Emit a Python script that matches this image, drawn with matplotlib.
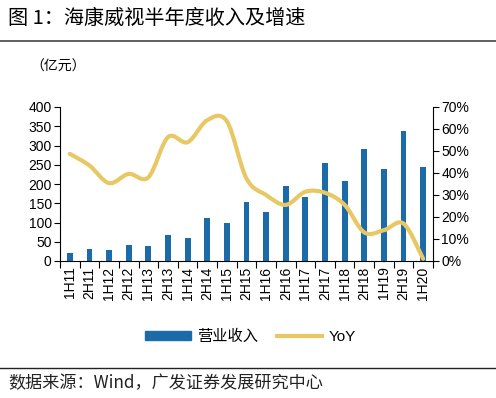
import numpy as np
import matplotlib
matplotlib.use("Agg")
from matplotlib import pyplot as plt
from matplotlib.path import Path
from matplotlib.patches import PathPatch, Rectangle
from matplotlib.lines import Line2D

plt.rcParams['font.family'] = ['Liberation Sans', 'Noto Sans CJK SC', 'DejaVu Sans']

periods = ["1H11", "2H11", "1H12", "2H12", "1H13", "2H13", "1H14", "2H14", "1H15", "2H15",
           "1H16", "2H16", "1H17", "2H17", "1H18", "2H18", "1H19", "2H19", "1H20"]
revenue = [20, 30, 28, 42, 38, 68, 59, 111, 98, 154,
           126, 194, 165, 255, 209, 291, 239, 338, 244]
yoy = [48.7, 43.4, 35.4, 39.6, 38.0, 56.3, 54.0, 64.0, 63.5, 37.5,
       30.0, 25.5, 31.5, 31.0, 25.5, 13.0, 14.0, 17.0, 1.0]
left_ticks = list(range(0, 401, 50))
right_ticks = list(range(0, 71, 10))

BAR_COLOR = "#1B6BA8"
LINE_COLOR = "#E8C865"
CJK = ['Noto Sans CJK SC', 'DejaVu Sans']


def smooth_path(xs, ys):
    """Catmull-Rom style bezier path through the points (like Excel smoothed line)"""
    pts = np.column_stack([xs, ys]).astype(float)
    n = len(pts)
    verts = [pts[0]]
    codes = [Path.MOVETO]
    for i in range(n - 1):
        p0 = pts[max(i - 1, 0)]
        p1 = pts[i]
        p2 = pts[i + 1]
        p3 = pts[min(i + 2, n - 1)]
        c1 = p1 + (p2 - p0) / 6.0
        c2 = p2 - (p3 - p1) / 6.0
        verts += [c1, c2, p2]
        codes += [Path.CURVE4] * 3
    return Path(verts, codes)


fig = plt.figure(figsize=(4.96, 3.98), dpi=100)

# title and rules
fig.text(8 / 496, 1 - 18 / 398, "图 1：海康威视半年度收入及增速", fontsize=14.5,
         fontweight="medium", va="center", ha="left", family=CJK)
fig.add_artist(Line2D([0, 1], [1 - 41 / 398] * 2, color="#444444", lw=1.2))
fig.text(30 / 496, 1 - 67 / 398, "（亿元）", fontsize=10, va="center", ha="left", family=CJK)
fig.add_artist(Line2D([0, 1], [1 - 368 / 398] * 2, color="#222222", lw=1.0))
fig.text(8 / 496, 1 - 383 / 398, "数据来源：Wind，广发证券发展研究中心", fontsize=12.3,
         va="center", ha="left", color="#222222", family=CJK)

ax = fig.add_axes([60 / 496, 1 - 261 / 398, (433 - 60) / 496, (261 - 107) / 398])
x = np.arange(len(periods))
ax.bar(x, revenue, width=0.3, color=BAR_COLOR, zorder=2)
ax.set_xlim(-0.5, len(periods) - 0.5)
ax.set_ylim(0, 400)
ax.set_yticks(left_ticks)
ax.tick_params(axis="y", labelsize=10, length=4, direction="out", pad=2)
ax.set_xticks(np.arange(-0.5, len(periods), 1.0))
ax.set_xticklabels([])
ax.set_xticks(x, minor=True)
ax.set_xticklabels(periods, minor=True, rotation=90, fontsize=10)
ax.tick_params(axis="x", which="major", length=5, direction="out")
ax.tick_params(axis="x", which="minor", length=0, pad=4)
for s in ["top", "right"]:
    ax.spines[s].set_visible(False)

ax2 = ax.twinx()
ax2.set_ylim(0, 70)
ax2.set_yticks(right_ticks)
ax2.set_yticklabels([f"{t}%" for t in right_ticks])
ax2.tick_params(axis="y", labelsize=10, length=4, direction="out", pad=2)
for s in ["top", "left", "bottom"]:
    ax2.spines[s].set_visible(False)
ax2.add_patch(PathPatch(smooth_path(x, yoy), facecolor="none", edgecolor=LINE_COLOR,
                        lw=3, capstyle="round", joinstyle="round", zorder=3))

handles = [Rectangle((0, 0), 1, 1, color=BAR_COLOR),
           Line2D([], [], color=LINE_COLOR, lw=3)]
fig.legend(handles, ["营业收入", "YoY"], loc="center", bbox_to_anchor=(0.505, 1 - 337 / 398),
           ncol=2, frameon=False, fontsize=11, handlelength=3.0, handleheight=0.5,
           columnspacing=1.2, handletextpad=0.4)

fig.savefig("out.png", dpi=100)
